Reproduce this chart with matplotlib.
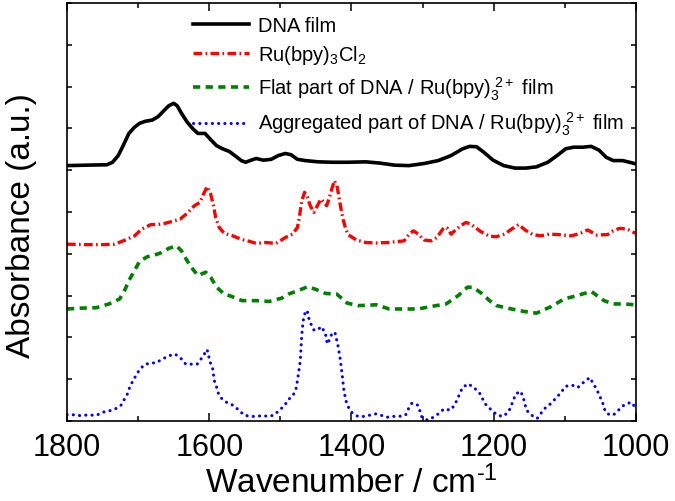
import matplotlib
matplotlib.use("Agg")
import matplotlib.pyplot as plt
import numpy as np

plt.rcParams['font.family'] = ['Liberation Sans', 'DejaVu Sans']
plt.rcParams['mathtext.fontset'] = 'custom'
plt.rcParams['mathtext.rm'] = 'Liberation Sans'
plt.rcParams['mathtext.it'] = 'Liberation Sans'

# ---- data (wavenumber cm^-1, offset absorbance a.u.) ----
dna_wn = [1800, 1774, 1744, 1736, 1728, 1721, 1713, 1705, 1698, 1690, 1680, 1672, 1664, 1657,
          1650, 1645, 1639, 1631, 1623, 1616, 1606, 1599, 1590, 1581, 1572, 1564, 1555, 1549,
          1541, 1534, 1524, 1513, 1503, 1493, 1485, 1476, 1465, 1447, 1426, 1406, 1380, 1360,
          1339, 1319, 1298, 1278, 1260, 1244, 1234, 1224, 1214, 1201, 1186, 1170, 1155, 1140,
          1124, 1111, 1099, 1088, 1075, 1063, 1052, 1042, 1032, 1019, 1009, 1000]
dna_ab = [6.11, 6.12, 6.13, 6.19, 6.35, 6.59, 6.88, 7.03, 7.12, 7.17, 7.20, 7.28, 7.42, 7.54,
          7.60, 7.54, 7.36, 7.15, 6.99, 6.88, 6.88, 6.75, 6.59, 6.51, 6.45, 6.35, 6.23, 6.19,
          6.24, 6.28, 6.24, 6.26, 6.35, 6.40, 6.37, 6.26, 6.23, 6.20, 6.19, 6.19, 6.20, 6.17,
          6.12, 6.11, 6.16, 6.23, 6.35, 6.51, 6.57, 6.56, 6.43, 6.24, 6.11, 6.05, 6.05, 6.08,
          6.19, 6.35, 6.51, 6.55, 6.55, 6.57, 6.48, 6.31, 6.23, 6.23, 6.19, 6.15]

ru_wn = [1800, 1774, 1749, 1733, 1718, 1705, 1695, 1682, 1672, 1662, 1651, 1641, 1631, 1621,
         1613, 1608, 1603, 1598, 1594, 1591, 1586, 1579, 1567, 1554, 1544, 1534, 1521, 1506,
         1493, 1483, 1476, 1473, 1470, 1466, 1462, 1458, 1453, 1448, 1443, 1435, 1431, 1427,
         1424, 1420, 1416, 1412, 1408, 1405, 1393, 1380, 1365, 1349, 1337, 1326, 1319, 1313,
         1306, 1298, 1288, 1280, 1275, 1270, 1265, 1260, 1255, 1247, 1239, 1232, 1219, 1206,
         1196, 1185, 1175, 1165, 1156, 1145, 1134, 1122, 1109, 1091, 1078, 1068, 1055, 1040,
         1032, 1023, 1012, 1001]
ru_ab = [4.23, 4.22, 4.22, 4.23, 4.33, 4.43, 4.59, 4.70, 4.70, 4.73, 4.78, 4.83, 4.97, 5.15,
         5.23, 5.43, 5.61, 5.43, 5.15, 4.87, 4.63, 4.49, 4.43, 4.34, 4.30, 4.25, 4.27, 4.25,
         4.39, 4.47, 4.63, 4.91, 5.27, 5.47, 5.35, 5.15, 4.99, 5.15, 5.31, 5.15, 5.35, 5.59,
         5.75, 5.59, 5.19, 4.83, 4.59, 4.46, 4.33, 4.27, 4.26, 4.27, 4.29, 4.31, 4.47, 4.55,
         4.47, 4.33, 4.31, 4.39, 4.51, 4.63, 4.61, 4.47, 4.55, 4.67, 4.75, 4.71, 4.54, 4.42,
         4.41, 4.47, 4.59, 4.70, 4.57, 4.46, 4.43, 4.47, 4.46, 4.43, 4.49, 4.57, 4.45, 4.46,
         4.55, 4.61, 4.59, 4.49]

flat_wn = [1800, 1780, 1759, 1741, 1726, 1718, 1713, 1705, 1698, 1687, 1677, 1667, 1657, 1646,
           1639, 1631, 1623, 1616, 1605, 1598, 1590, 1580, 1567, 1554, 1534, 1516, 1498, 1488,
           1475, 1462, 1452, 1436, 1421, 1406, 1390, 1365, 1347, 1326, 1306, 1288, 1267, 1250,
           1237, 1229, 1216, 1206, 1196, 1175, 1157, 1140, 1119, 1101, 1083, 1063, 1045, 1032,
           1017, 1001]
flat_ab = [2.68, 2.70, 2.71, 2.80, 2.92, 3.16, 3.36, 3.60, 3.82, 3.93, 3.97, 4.03, 4.13, 4.19,
           4.07, 3.83, 3.63, 3.48, 3.56, 3.44, 3.21, 3.05, 2.97, 2.88, 2.88, 2.86, 2.94, 3.04,
           3.12, 3.21, 3.16, 3.05, 3.04, 2.82, 2.76, 2.78, 2.68, 2.68, 2.68, 2.74, 2.80, 3.00,
           3.20, 3.20, 3.04, 2.88, 2.76, 2.68, 2.62, 2.58, 2.74, 2.92, 3.00, 3.10, 2.88, 2.80,
           2.80, 2.78]

agg_wn = [1800, 1792, 1782, 1774, 1766, 1758, 1750, 1741, 1732, 1724, 1719, 1715, 1712, 1708,
          1703, 1698, 1691, 1682, 1675, 1666, 1657, 1648, 1640, 1633, 1625, 1617, 1610, 1603,
          1599, 1595, 1593, 1590, 1588, 1584, 1576, 1567, 1559, 1551, 1542, 1534, 1525, 1517,
          1509, 1502, 1494, 1490, 1482, 1478, 1476, 1474, 1472, 1471, 1470, 1468, 1466, 1465,
          1462, 1460, 1457, 1453, 1447, 1443, 1437, 1434, 1430, 1427, 1423, 1419, 1416, 1413,
          1411, 1408, 1405, 1400, 1391, 1383, 1374, 1366, 1359, 1350, 1342, 1333, 1324, 1320,
          1315, 1307, 1304, 1301, 1293, 1285, 1278, 1270, 1261, 1255, 1251, 1244, 1236, 1228,
          1220, 1212, 1205, 1195, 1187, 1179, 1174, 1169, 1162, 1158, 1154, 1147, 1139, 1129,
          1119, 1106, 1099, 1090, 1082, 1074, 1065, 1060, 1055, 1051, 1047, 1045, 1040, 1032,
          1024, 1017, 1007, 1001]
agg_ab = [0.15, 0.15, 0.13, 0.14, 0.14, 0.14, 0.21, 0.24, 0.29, 0.38, 0.53, 0.65, 0.80, 0.94,
          1.09, 1.23, 1.35, 1.39, 1.39, 1.48, 1.56, 1.60, 1.50, 1.36, 1.36, 1.36, 1.52, 1.71,
          1.42, 1.24, 0.97, 0.83, 0.69, 0.56, 0.45, 0.38, 0.27, 0.14, 0.11, 0.11, 0.13, 0.11,
          0.14, 0.25, 0.37, 0.49, 0.62, 0.77, 0.97, 1.21, 1.44, 1.76, 2.04, 2.40, 2.52, 2.64,
          2.62, 2.46, 2.32, 2.18, 2.18, 2.26, 2.12, 1.84, 1.98, 2.12, 2.10, 1.80, 1.50, 1.09,
          0.77, 0.49, 0.35, 0.21, 0.11, 0.11, 0.14, 0.17, 0.14, 0.09, 0.11, 0.11, 0.14, 0.29,
          0.43, 0.38, 0.25, 0.09, 0.02, 0.09, 0.17, 0.29, 0.26, 0.38, 0.53, 0.80, 0.89, 0.80,
          0.67, 0.41, 0.29, 0.14, 0.11, 0.22, 0.43, 0.65, 0.71, 0.53, 0.26, 0.14, 0.06, 0.29,
          0.43, 0.67, 0.83, 0.86, 0.80, 0.92, 1.04, 0.89, 0.75, 0.59, 0.45, 0.30, 0.17, 0.14,
          0.27, 0.38, 0.45, 0.33]

labels = ['DNA film',
          r'Ru(bpy)$_{3}$Cl$_{2}$',
          r'Flat part of DNA / Ru(bpy)$_{3}^{\ 2+}$ film',
          r'Aggregated part of DNA / Ru(bpy)$_{3}^{\ 2+}$ film']
x_major = [1800, 1600, 1400, 1200, 1000]

# ---- figure ----
W, H = 675, 502
fig = plt.figure(figsize=(W / 100, H / 100), dpi=100)
ax = fig.add_axes([67 / W, (H - 422) / H, 569 / W, 418 / H])

ax.plot(dna_wn, dna_ab, color='black', lw=2.6, solid_joinstyle='round', label=labels[0])
ax.plot(ru_wn, ru_ab, color='#ff0000', lw=2.4, dashes=(2.6, 1.0, 0.5, 1.0), label=labels[1])
ax.plot(flat_wn, flat_ab, color='#008000', lw=2.6, dashes=(2.0, 1.5), label=labels[2])
ax.plot(agg_wn, agg_ab, color='#0000ff', lw=2.2, dashes=(0.05, 2.0),
        dash_capstyle='round', label=labels[3])

ax.set_xlim(1800, 1000)
ax.set_ylim(0, 10)
ax.set_xticks(x_major)
ax.set_xticks(np.arange(1000, 1801, 100), minor=True)
ax.set_yticks(np.arange(0, 11, 1))
ax.set_yticklabels([])
ax.tick_params(axis='x', which='major', direction='in', top=True, length=5.5, width=1.1,
               labelsize=22, pad=8)
ax.tick_params(axis='x', which='minor', direction='in', top=True, length=3.5, width=1.1)
ax.tick_params(axis='y', which='major', direction='in', right=True, length=3.5, width=1.1)
for s in ax.spines.values():
    s.set_linewidth(1.2)

ax.set_xlabel('Wavenumber / cm$^{\u2010 1}$', fontsize=24, labelpad=2)
ax.set_ylabel('Absorbance (a.u.)', fontsize=24)
ax.yaxis.set_label_coords(-0.052, 0.469)

leg = ax.legend(loc='upper left', bbox_to_anchor=(0.2215, 0.968), frameon=False,
                fontsize=14.5, handlelength=2.8, handletextpad=0.45, labelspacing=0.4,
                borderpad=0, borderaxespad=0)

fig.savefig('out.png', dpi=100)
